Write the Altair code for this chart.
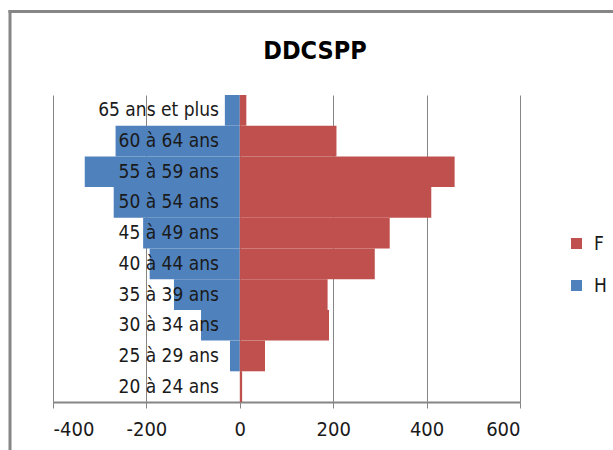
import altair as alt
import pandas as pd

# Tranches d'âge, de la plus âgée (en haut) à la plus jeune (en bas)
tranches = [
    "65 ans et plus", "60 à 64 ans", "55 à 59 ans", "50 à 54 ans",
    "45 à 49 ans", "40 à 44 ans", "35 à 39 ans", "30 à 34 ans",
    "25 à 29 ans", "20 à 24 ans",
]
# Effectifs : hommes à gauche (valeurs négatives), femmes à droite
hommes = [-32, -266, -332, -270, -207, -193, -141, -83, -21, 0]
femmes = [14, 207, 460, 410, 321, 289, 188, 191, 54, 5]
x_ticks = [-400, -200, 0, 200, 400, 600]
titre = "DDCSPP"

FONT = "Liberation Sans Narrow, DejaVu Sans Condensed, Arial Narrow, sans-serif"
GRIS = "#868686"

df = pd.DataFrame(
    {
        "tranche": tranches * 2,
        "sexe": ["H"] * len(tranches) + ["F"] * len(tranches),
        "valeur": hommes + femmes,
    }
)

y_enc = alt.Y(
    "tranche:N",
    sort=tranches,
    axis=None,
    scale=alt.Scale(paddingInner=0, paddingOuter=0),
)

barres = (
    alt.Chart(df)
    .mark_bar()
    .encode(
        x=alt.X(
            "valeur:Q",
            stack=None,
            scale=alt.Scale(domain=[-400, 600], nice=False, zero=True),
            axis=alt.Axis(
                title=None,
                values=x_ticks,
                labelExpr="'' + datum.value",
                grid=True,
                gridColor=GRIS,
                gridWidth=1,
                domainColor=GRIS,
                domainWidth=2,
                tickColor=GRIS,
                tickSize=6,
                tickWidth=1,
                labelFont=FONT,
                labelFontSize=20,
                labelColor="#1a1a1a",
                labelPadding=11,
            ),
        ),
        y=y_enc,
        color=alt.Color(
            "sexe:N",
            scale=alt.Scale(domain=["F", "H"], range=["#C0504D", "#4F81BD"]),
            legend=alt.Legend(
                title=None,
                orient="none",
                legendX=514,
                legendY=139,
                symbolType="square",
                symbolSize=121,
                symbolStrokeWidth=0,
                labelFont=FONT,
                labelFontSize=19,
                labelColor="#1a1a1a",
                labelOffset=8,
                rowPadding=22,
                padding=0,
            ),
        ),
    )
)

etiquettes = (
    alt.Chart(pd.DataFrame({"tranche": tranches}))
    .mark_text(align="right", baseline="middle", font=FONT, fontSize=19, color="#1a1a1a")
    .encode(y=y_enc, x=alt.value(166), text="tranche:N")
)

entete = (
    alt.Chart(pd.DataFrame({"t": [titre]}))
    .mark_text(align="center", baseline="alphabetic", font=FONT, fontSize=25,
               fontWeight="bold", color="#000000")
    .encode(x=alt.value(262), y=alt.value(-36), text="t:N")
)

un = pd.DataFrame({"a": [0]})
cadre_gauche = alt.Chart(un).mark_rule(color=GRIS, strokeWidth=3).encode(
    x=alt.value(-43), y=alt.value(-85), y2=alt.value(360)
)
cadre_haut = alt.Chart(un).mark_rule(color=GRIS, strokeWidth=3).encode(
    x=alt.value(-44.5), x2=alt.value(565), y=alt.value(-83.5)
)

chart = (
    alt.layer(cadre_gauche, cadre_haut, barres, etiquettes, entete)
    .properties(
        width=467,
        height=307,
        autosize=alt.AutoSizeParams(type="none"),
        padding={"left": 53, "top": 95, "right": 93, "bottom": 48},
        background="white",
    )
    .configure_view(stroke=None)
)

chart.save("out.html", embed_options={"renderer": "svg", "actions": False})
